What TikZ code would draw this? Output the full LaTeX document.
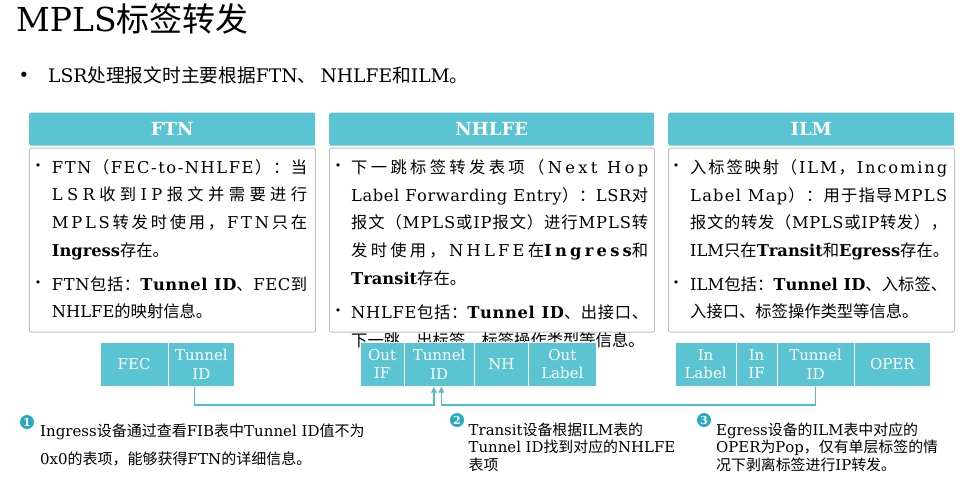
\documentclass[tikz,border=0pt]{standalone}
\usepackage{fontspec}
\setmainfont{DejaVu Serif}
\newfontfamily\cjk{Noto Sans CJK SC}
\usetikzlibrary{calc,arrows.meta}

% Chinese characters and full-width punctuation are set in the CJK family,
% Latin letters and digits in the main serif; stretchable glue between
% characters lets a line be spread evenly to the column width.
\newXeTeXintercharclass\CJKcls
\newXeTeXintercharclass\LATcls
\newcount\cjkc
\newcommand\setclass[3]{\cjkc=#1\relax
  \loop\XeTeXcharclass\cjkc=#3
  \ifnum\cjkc<#2\relax\advance\cjkc by 1\relax\repeat}
\setclass{"3000}{"303F}{\CJKcls}
\setclass{"4E00}{"9FFF}{\CJKcls}
\setclass{"FF00}{"FFEF}{\CJKcls}
\setclass{`A}{`Z}{\LATcls}
\setclass{`a}{`z}{\LATcls}
\setclass{`0}{`9}{\LATcls}
\XeTeXcharclass`\-=\LATcls
\newcommand\gap{\hskip0pt plus 2pt}
\XeTeXinterchartoks 4095 \CJKcls = {\cjk}
\XeTeXinterchartoks 4095 \LATcls = {\rmfamily}
\XeTeXinterchartoks 4095 0 = {\rmfamily}
\XeTeXinterchartoks 0 \CJKcls = {\cjk}
\XeTeXinterchartoks \CJKcls 0 = {\rmfamily}
\XeTeXinterchartoks 0 \LATcls = {\rmfamily}
\XeTeXinterchartoks \LATcls \CJKcls = {\gap\cjk}
\XeTeXinterchartoks \CJKcls \LATcls = {\gap\rmfamily}
\XeTeXinterchartoks \CJKcls \CJKcls = {\gap}
\XeTeXinterchartoks \LATcls \LATcls = {\gap}
\XeTeXinterchartokenstate=1

\newdimen\colw
% a block of lines: the first line's baseline is the box baseline
\newcommand\Para[3]{\vtop{\colw=#1\relax\baselineskip=#2\relax\lineskiplimit=-20pt #3}}
\newcommand\J[1]{\hbox to\colw{#1}}
\newcommand\R[1]{\hbox{#1}}

\definecolor{hdrc}{RGB}{91,196,211}
\definecolor{numc}{RGB}{42,170,192}
\definecolor{linec}{RGB}{78,190,206}
\definecolor{boxg}{RGB}{192,192,192}

\begin{document}
\begin{tikzpicture}[x=1pt,y=-1pt,
  hdr/.style={fill=hdrc, rounded corners=2pt, anchor=north west, inner sep=0pt,
    minimum height=33pt, text=white, font=\bfseries\fontsize{18}{20}\selectfont},
  body/.style={draw=boxg, fill=white, rounded corners=2pt, line width=0.9pt,
    anchor=north west, inner sep=0pt, minimum height=184pt},
  txt/.style={anchor=base west, inner sep=0pt, font=\fontsize{16.3}{27.7}\selectfont},
  dot/.style={inner sep=0pt, font=\fontsize{11}{12}\selectfont},
  cell/.style={fill=hdrc, draw=white, line width=1.2pt, anchor=north west, inner sep=0pt,
    minimum height=44pt, align=center, text=white, font=\fontsize{15}{18.5}\selectfont},
  conn/.style={draw=linec, line width=1.6pt, -{Triangle[length=6pt,width=5.5pt]}},
  numc/.style={circle, fill=numc, inner sep=0pt, minimum size=14pt, text=white,
    font=\bfseries\fontsize{11}{11}\selectfont},
  note/.style={anchor=base west, inner sep=0pt, font=\fontsize{14.9}{17.7}\selectfont}]

\useasboundingbox (0,0) rectangle (963,487);
\fill[white] (0,0) rectangle (963,487);

% title and lead line
\node[anchor=base west, inner sep=0pt, font=\fontsize{33}{36}\selectfont] (title) at (16,32) {MPLS标签转发};
\node[inner sep=0pt, font=\fontsize{18}{20}\selectfont] (leaddot) at (24,77) {•};
\node[anchor=base west, inner sep=0pt, font=\fontsize{18.7}{20}\selectfont] (lead) at (48,82) {LSR处理报文时主要根据FTN、 NHLFE和ILM。};

% three column headers
\node[hdr, minimum width=286pt] (hftn) at (29,112.5) {FTN};
\node[hdr, minimum width=325pt] (hnh) at (329,112.5) {NHLFE};
\node[hdr, minimum width=286pt] (hilm) at (668,112.5) {ILM};

% text panels
\node[body, minimum width=286pt] (bftn) at (29,147.7) {};
\node[body, minimum width=325pt] (bnh) at (329,147.7) {};
\node[body, minimum width=286pt] (bilm) at (668,147.7) {};

% FTN panel
\node[dot] (fd1) at (38,166.7) {•};
\node[txt] (ft1) at (51.7,173) {\Para{255.3pt}{27.7pt}{%
  \J{FTN（FEC-to-NHLFE）：当}
  \J{LSR收到IP报文并需要进行}
  \J{MPLS转发时使用，FTN只在}
  \R{{\bfseries Ingress}存在。}}};
\node[dot] (fd2) at (38,284) {•};
\node[txt] (ft2) at (51.7,290) {\Para{255.3pt}{27.7pt}{%
  \J{FTN包括：{\bfseries Tunnel ID}、FEC到}
  \R{NHLFE的映射信息。}}};

% NHLFE panel
\node[dot] (nd1) at (338,166.7) {•};
\node[txt] (nt1) at (351,173.5) {\Para{297pt}{27.7pt}{%
  \J{下一跳标签转发表项（Next Hop}
  \J{Label Forwarding Entry）：LSR对}
  \J{报文（MPLS或IP报文）进行MPLS转}
  \J{发时使用，NHLFE在{\bfseries Ingress}和}
  \R{{\bfseries Transit}存在。}}};
\node[dot] (nd2) at (338,312) {•};
\node[txt] (nt2) at (351,318.3) {\Para{297pt}{27.7pt}{%
  \J{NHLFE包括：{\bfseries Tunnel ID}、出接口、}
  \R{下一跳、出标签、标签操作类型等信息。}}};

% ILM panel
\node[dot] (id1) at (676,166.7) {•};
\node[txt] (it1) at (690,173.5) {\Para{257pt}{27.7pt}{%
  \J{入标签映射（ILM，Incoming}
  \J{Label Map）：用于指导MPLS}
  \J{报文的转发（MPLS或IP转发），}
  \R{ILM只在{\bfseries Transit}和{\bfseries Egress}存在。}}};
\node[dot] (id2) at (676,284) {•};
\node[txt] (it2) at (690,290) {\Para{257pt}{27.7pt}{%
  \J{ILM包括：{\bfseries Tunnel ID}、入标签、}
  \R{入接口、标签操作类型等信息。}}};

% table entries
\node[cell, minimum width=68pt] (fec) at (99.5,341.5) {FEC};
\node[cell, minimum width=66.5pt] (ftid) at (167.5,341.5) {Tunnel\\ID};

\node[cell, minimum width=44pt] (oif) at (359.5,341.5) {Out\\IF};
\node[cell, minimum width=70pt] (ntid) at (403.5,341.5) {Tunnel\\ID};
\node[cell, minimum width=54.5pt] (nh) at (473.5,341.5) {NH};
\node[cell, minimum width=67.5pt] (olab) at (528,341.5) {Out\\Label};

\node[cell, minimum width=61pt] (ilab) at (674.5,341.5) {In\\Label};
\node[cell, minimum width=41pt] (iif) at (735.5,341.5) {In\\IF};
\node[cell, minimum width=77pt] (itid) at (776.5,341.5) {Tunnel\\ID};
\node[cell, minimum width=76.5pt] (oper) at (853.5,341.5) {OPER};

% lookups between the tables
\draw[conn] ([xshift=-7pt]ftid.south) -- ++(0,18) -| ([xshift=-5.2pt]ntid.south);
\draw[conn] (itid.south) -- ++(0,18) -| ([xshift=2.2pt]ntid.south);

% numbered notes
\node[numc] (n1) at (27,422) {1};
\node[anchor=base west, inner sep=0pt, font=\fontsize{15}{28}\selectfont] (t1) at (40,436.5) {\Para{330pt}{28pt}{%
  \R{Ingress设备通过查看FIB表中Tunnel ID值不为}
  \R{0x0的表项，能够获得FTN的详细信息。}}};

\node[numc] (n2) at (457,420) {2};
\node[note] (t2) at (468.5,435) {\Para{220pt}{17.7pt}{%
  \R{Transit设备根据ILM表的}
  \R{Tunnel ID找到对应的NHLFE}
  \R{表项}}};

\node[numc] (n3) at (704,420) {3};
\node[note] (t3) at (716,435) {\Para{240pt}{17.7pt}{%
  \R{Egress设备的ILM表中对应的}
  \R{OPER为Pop，仅有单层标签的情}
  \R{况下剥离标签进行IP转发。}}};
\end{tikzpicture}
\end{document}
